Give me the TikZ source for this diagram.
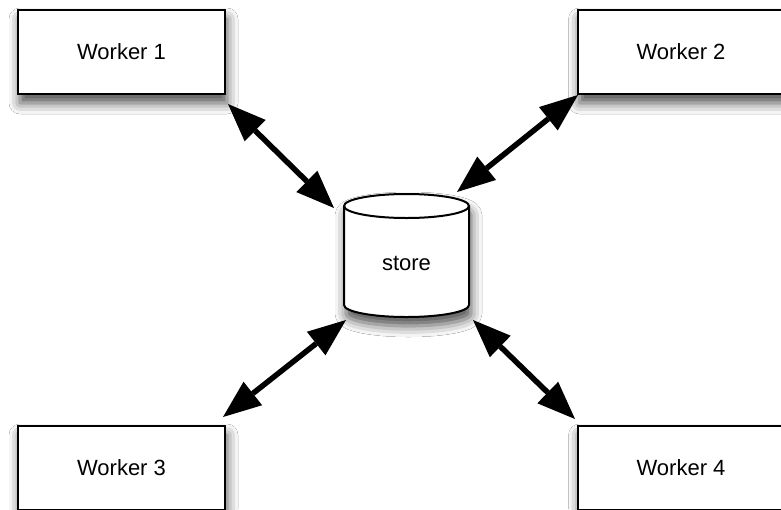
\documentclass[tikz,border=0pt]{standalone}
\usepackage{fontspec}
\setmainfont{Liberation Sans}
\usetikzlibrary{arrows.meta,calc,shadows.blur}
\tikzset{
  shad/.style={blur shadow={shadow xshift=2pt, shadow yshift=-9pt, shadow blur radius=11pt, shadow opacity=70}},
  worker/.style={draw=black, line width=2pt, fill=white, minimum width=207pt, minimum height=84pt, outer sep=0pt, inner sep=0pt,
    font=\fontsize{22}{26}\selectfont, shad},
  tip/.tip={Triangle[length=38pt,width=30pt,fill=black,line width=0pt]},
  link/.style={line width=5.5pt, draw=black, tip-tip},
  cyl/.style={draw=black, line width=2pt, fill=white},
}
\begin{document}
\begin{tikzpicture}[x=1pt,y=-1pt]
\useasboundingbox (0,0) rectangle (781,509);
\clip (0,0) rectangle (781,509);
\fill[white] (0,0) rectangle (781,509);
% cylinder
\path[cyl, shad]
  (344,206) -- (344,305) arc[start angle=180, end angle=0, x radius=62.5, y radius=12]
  -- (469,206) arc[start angle=0, end angle=-180, x radius=62.5, y radius=12] -- cycle;
\draw[line width=2pt] (344,206) arc[start angle=180, end angle=0, x radius=62.5, y radius=12];
\node[minimum width=125pt, minimum height=123pt, outer sep=0pt, inner sep=0pt] (store) at (406.5,255.5) {};
\node[font=\fontsize{22}{26}\selectfont] (storelbl) at (406.5,263) {store};
% workers
\node[worker] (w1) at (121.5,52) {Worker 1};
\node[worker] (w2) at (681,52) {Worker 2};
\node[worker] (w3) at (121.5,468) {Worker 3};
\node[worker] (w4) at (681,468) {Worker 4};
% links
\draw[link] ($(w1.south east)+(3,10)$) -- ($(store.north west)+(-10,14)$);
\draw[link] ($(store.north east)+(-12,-2)$) -- ($(w2.south west)+(0.5,1)$);
\draw[link] ($(store.south west)+(2,3)$) -- ($(w3.north east)+(-2,-9)$);
\draw[link] ($(store.south east)+(4,3)$) -- ($(w4.north west)+(-2.5,-7)$);
\end{tikzpicture}
\end{document}
